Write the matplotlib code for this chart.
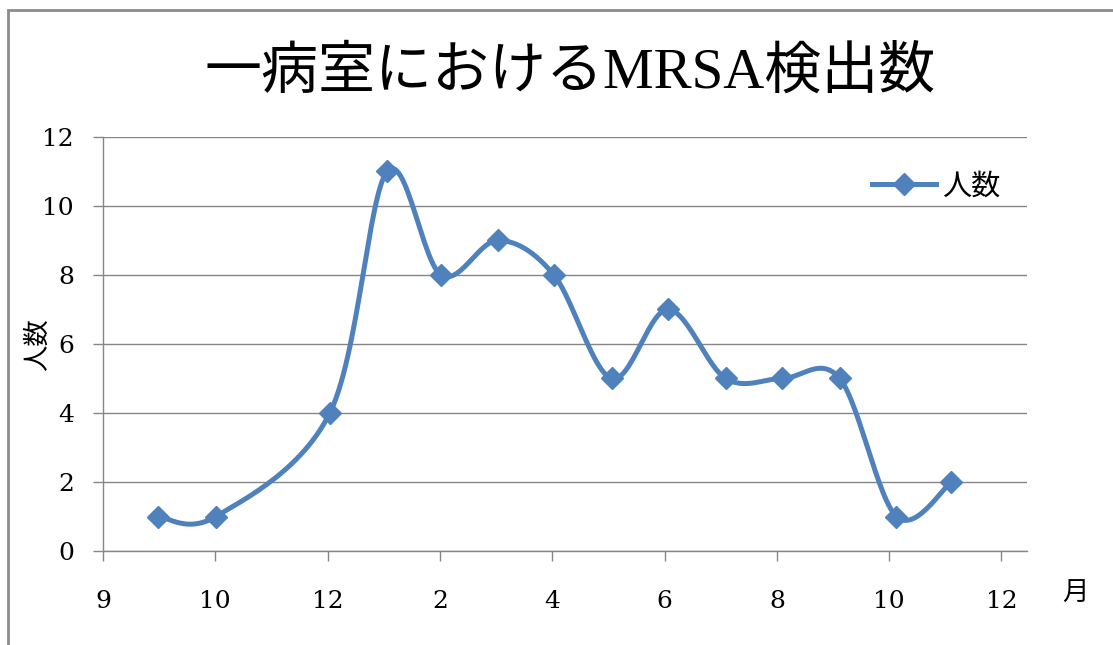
import numpy as np
import matplotlib
matplotlib.use("Agg")
import matplotlib.pyplot as plt
from matplotlib.patches import Rectangle

# data
month_pos = [0.98, 2.01, 4.04, 5.06, 6.02, 7.03, 8.03, 9.06, 10.06, 11.09, 12.1, 13.12, 14.13, 15.11]
counts = [1, 1, 4, 11, 8, 9, 8, 5, 7, 5, 5, 5, 1, 2]
tick_pos = [0, 2, 4, 6, 8, 10, 12, 14, 16]
tick_labels = ["9", "10", "12", "2", "4", "6", "8", "10", "12"]
y_ticks = [0, 2, 4, 6, 8, 10, 12]

title = "一病室におけるMRSA検出数"
series_name = "人数"
y_label = "人数"
x_label = "月"

BLUE = "#4F81BD"
GRID = "#868686"
JP = ["Liberation Serif", "Noto Sans CJK JP"]
NUM = ["DejaVu Serif"]


def smooth_curve(x, y, steps=30):
    # Catmull-Rom spline like Excel's "smoothed line"
    pts = np.column_stack([x, y]).astype(float)
    padded = np.vstack([pts[0], pts, pts[-1]])
    out = []
    t = np.linspace(0, 1, steps)[:, None]
    for i in range(1, len(padded) - 2):
        p0, p1, p2, p3 = padded[i - 1], padded[i], padded[i + 1], padded[i + 2]
        c1 = p1 + (p2 - p0) / 6
        c2 = p2 - (p3 - p1) / 6
        seg = ((1 - t) ** 3) * p1 + 3 * ((1 - t) ** 2) * t * c1 \
            + 3 * (1 - t) * t ** 2 * c2 + t ** 3 * p2
        out.append(seg if i == 1 else seg[1:])
    curve = np.vstack(out)
    return curve[:, 0], curve[:, 1]


fig = plt.figure(figsize=(11.13, 6.45), dpi=100)
ax = fig.add_axes([0.0925, 0.1457, 0.830, 0.642])

sx, sy = smooth_curve(month_pos, counts)
ax.plot(sx, sy, color=BLUE, lw=3.6, solid_capstyle="round", zorder=3)
ax.plot(month_pos, counts, linestyle="none", marker="D", markersize=11,
        color=BLUE, zorder=4)
# legend proxy
ax.plot([], [], color=BLUE, lw=3.6, marker="D", markersize=11, label=series_name)

ax.set_xlim(0, 16.45)
ax.set_ylim(0, 12)
ax.set_xticks(tick_pos)
ax.set_xticklabels(tick_labels, family=NUM, fontsize=18)
ax.set_yticks(y_ticks)
ax.set_yticklabels([str(v) for v in y_ticks], family=NUM, fontsize=18)
ax.tick_params(axis="x", length=7, width=1, color=GRID, pad=21)
ax.tick_params(axis="y", length=7, width=1, color=GRID, pad=14)

ax.grid(axis="y", color=GRID, lw=1)
ax.set_axisbelow(True)
for side in ["top", "right"]:
    ax.spines[side].set_visible(False)
for side in ["left", "bottom"]:
    ax.spines[side].set_color(GRID)
    ax.spines[side].set_linewidth(1)

leg = ax.legend(loc="upper right", bbox_to_anchor=(1.0, 0.975), frameon=False,
                prop={"family": JP, "size": 21}, handlelength=2.2,
                handletextpad=0.2)

fig.text(0.512, 0.887, title, ha="center", va="center", family=JP, fontsize=41)
fig.text(0.034, 0.465, y_label, ha="center", va="center", rotation=90,
         family=JP, fontsize=19)
fig.text(0.966, 0.078, x_label, ha="center", va="center", family=JP, fontsize=19)

# outer chart frame (left and top edges visible)
fig.patches.append(Rectangle((0.0075, -0.1), 1.2, 1.084, transform=fig.transFigure,
                             fill=False, edgecolor="#8C8C8C", lw=2))

fig.savefig("out.png", dpi=100)
